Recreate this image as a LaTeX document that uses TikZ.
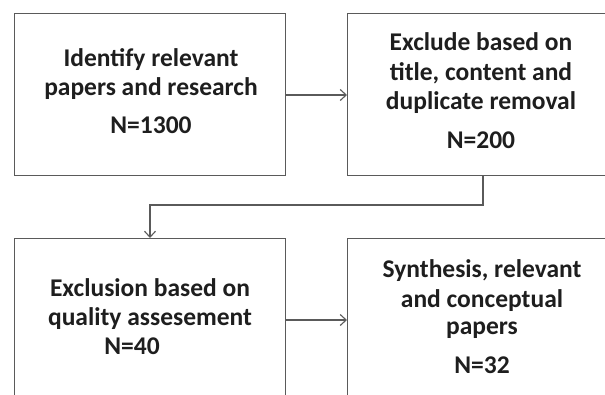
\documentclass[tikz,border=0pt]{standalone}
\usepackage{fontspec}
\setmainfont{Carlito}
\usetikzlibrary{arrows.meta}
\definecolor{linegray}{HTML}{5A5A5A}
\definecolor{txt}{HTML}{1E1E1E}
\tikzset{
  box/.style={draw=linegray, line width=1.2pt, rectangle, inner sep=0pt, anchor=north west},
  lbl/.style={text=txt, font=\bfseries\fontsize{25.5}{29.5}\selectfont, align=center, inner sep=0pt, anchor=base},
  conn/.style={draw=linegray, line width=1.1pt, -{Straight Barb[length=6pt,width=11pt,line width=1.1pt]}}
}
\begin{document}
\begin{tikzpicture}[x=1pt,y=-1pt]
\useasboundingbox (0,0) rectangle (605,394);
\clip (0,0) rectangle (605,394);
\fill[white] (0,0) rectangle (605,394);
\node[box, minimum width=271pt, minimum height=162pt] (b1) at (14,13) {};
\node[box, minimum width=268pt, minimum height=162pt] (b2) at (347,13) {};
\node[box, minimum width=271pt, minimum height=170pt] (b3) at (14,238) {};
\node[box, minimum width=268pt, minimum height=170pt] (b4) at (347,238) {};
\node[lbl] (t1) at (151,133) {Identify relevant\\papers and research\\[8pt]N=1300};
\node[lbl] (t2) at (481,148) {Exclude based on\\title, content and\\duplicate removal\\[9pt]N=200};
\node[lbl] (t3) at (150,354) {Exclusion based on\\quality assesement\\[-1pt]N=40\hspace*{36pt}};
\node[lbl] (t4) at (482,373) {Synthesis, relevant\\and conceptual\\[-2pt]papers\\[9pt]N=32};
\draw[conn] (b1.east |- 0,95) -- (b2.west |- 0,95);
\coordinate (m1) at (483,205);
\coordinate (m2) at (150,205);
\draw[conn] (b2.south -| m1) -- (m1) -- (m2) -- (b3.north -| m2);
\draw[conn] (b3.east |- 0,320) -- (b4.west |- 0,320);
\end{tikzpicture}
\end{document}
